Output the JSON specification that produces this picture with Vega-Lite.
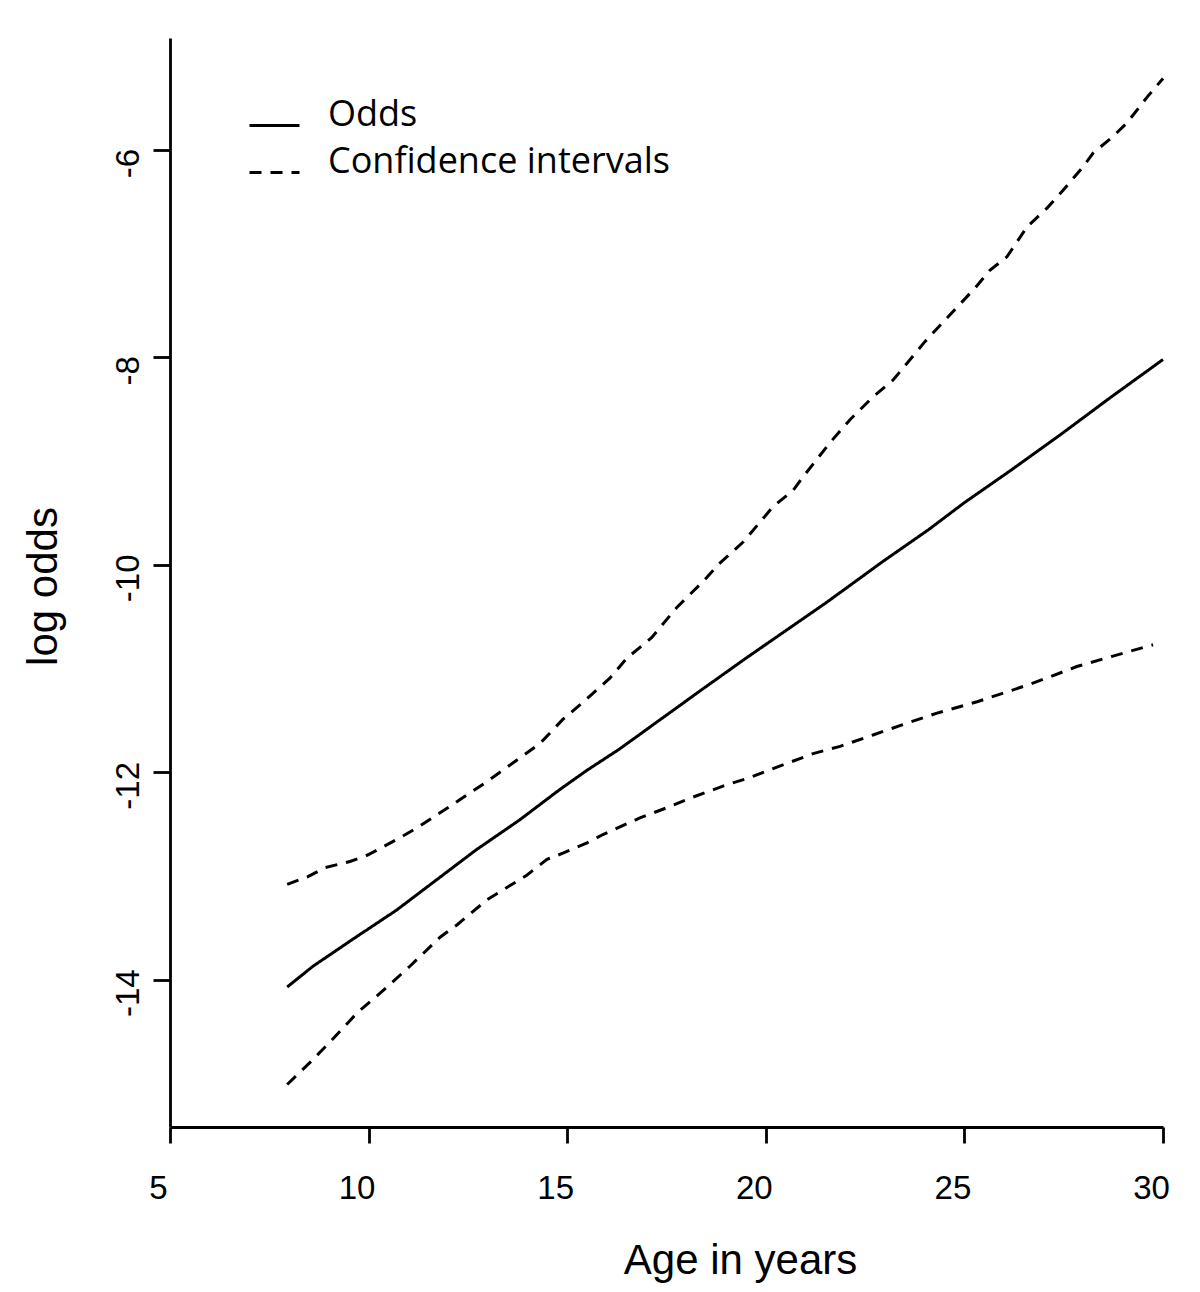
{
  "$schema": "https://vega.github.io/schema/vega-lite/v6.json",
  "width": 993,
  "height": 1089,
  "autosize": {"type": "none"},
  "padding": {"left": 170, "top": 38, "right": 37, "bottom": 165},
  "background": "white",
  "config": {"view": {"stroke": null}},
  "datasets": {
    "odds": [
      {"age": 7.95, "logodds": -14.07}, {"age": 8.6, "logodds": -13.87}, {"age": 9.6, "logodds": -13.61},
      {"age": 10.7, "logodds": -13.33}, {"age": 11.7, "logodds": -13.04}, {"age": 12.7, "logodds": -12.75},
      {"age": 13.8, "logodds": -12.46}, {"age": 14.8, "logodds": -12.17}, {"age": 15.5, "logodds": -11.98},
      {"age": 16.3, "logodds": -11.78}, {"age": 18.4, "logodds": -11.2}, {"age": 19.5, "logodds": -10.9},
      {"age": 21.5, "logodds": -10.37}, {"age": 22.4, "logodds": -10.12}, {"age": 22.9, "logodds": -9.98},
      {"age": 24.1, "logodds": -9.66}, {"age": 25.0, "logodds": -9.4}, {"age": 26.2, "logodds": -9.08},
      {"age": 27.4, "logodds": -8.75}, {"age": 28.7, "logodds": -8.38}, {"age": 30.0, "logodds": -8.02}
    ],
    "upper": [
      {"age": 7.95, "logodds": -13.08}, {"age": 8.45, "logodds": -13.01}, {"age": 8.9, "logodds": -12.92},
      {"age": 9.53, "logodds": -12.86}, {"age": 9.96, "logodds": -12.8}, {"age": 10.41, "logodds": -12.71},
      {"age": 10.84, "logodds": -12.62}, {"age": 11.24, "logodds": -12.53}, {"age": 12.12, "logodds": -12.31},
      {"age": 12.98, "logodds": -12.09}, {"age": 13.38, "logodds": -11.98}, {"age": 14.32, "logodds": -11.72},
      {"age": 14.89, "logodds": -11.49}, {"age": 15.32, "logodds": -11.35}, {"age": 16.08, "logodds": -11.09},
      {"age": 16.5, "logodds": -10.9}, {"age": 17.13, "logodds": -10.7}, {"age": 17.76, "logodds": -10.41},
      {"age": 18.42, "logodds": -10.16}, {"age": 18.85, "logodds": -9.98}, {"age": 19.43, "logodds": -9.78},
      {"age": 20.18, "logodds": -9.44}, {"age": 20.69, "logodds": -9.28}, {"age": 20.94, "logodds": -9.15},
      {"age": 21.62, "logodds": -8.82}, {"age": 22.12, "logodds": -8.6}, {"age": 22.7, "logodds": -8.38},
      {"age": 23.2, "logodds": -8.22}, {"age": 24.0, "logodds": -7.85}, {"age": 24.56, "logodds": -7.62},
      {"age": 25.27, "logodds": -7.33}, {"age": 25.64, "logodds": -7.16}, {"age": 26.07, "logodds": -7.03},
      {"age": 26.58, "logodds": -6.74}, {"age": 27.08, "logodds": -6.56}, {"age": 27.48, "logodds": -6.39},
      {"age": 27.99, "logodds": -6.16}, {"age": 28.24, "logodds": -6.03}, {"age": 28.74, "logodds": -5.87},
      {"age": 29.09, "logodds": -5.74}, {"age": 29.6, "logodds": -5.49}, {"age": 30.0, "logodds": -5.31}
    ],
    "lower": [
      {"age": 7.95, "logodds": -15.01}, {"age": 8.52, "logodds": -14.8}, {"age": 9.03, "logodds": -14.6},
      {"age": 9.71, "logodds": -14.32}, {"age": 10.29, "logodds": -14.13}, {"age": 11.04, "logodds": -13.87},
      {"age": 11.8, "logodds": -13.59}, {"age": 12.23, "logodds": -13.47}, {"age": 12.98, "logodds": -13.23},
      {"age": 13.99, "logodds": -12.99}, {"age": 14.49, "logodds": -12.84}, {"age": 14.89, "logodds": -12.78},
      {"age": 15.5, "logodds": -12.68}, {"age": 15.9, "logodds": -12.6}, {"age": 16.83, "logodds": -12.44},
      {"age": 17.59, "logodds": -12.33}, {"age": 18.09, "logodds": -12.25}, {"age": 19.02, "logodds": -12.12},
      {"age": 19.53, "logodds": -12.06}, {"age": 20.28, "logodds": -11.95}, {"age": 21.19, "logodds": -11.82},
      {"age": 21.87, "logodds": -11.75}, {"age": 22.7, "logodds": -11.64}, {"age": 23.45, "logodds": -11.54},
      {"age": 24.31, "logodds": -11.43}, {"age": 25.32, "logodds": -11.32}, {"age": 26.58, "logodds": -11.16},
      {"age": 27.08, "logodds": -11.09}, {"age": 27.83, "logodds": -10.98}, {"age": 28.74, "logodds": -10.88},
      {"age": 29.75, "logodds": -10.77}
    ]
  },
  "layer": [
    {
      "data": {"name": "odds"},
      "transform": [{"calculate": "'Odds'", "as": "series"}, {"calculate": "'odds'", "as": "line"}],
      "mark": {"type": "line", "color": "black", "strokeWidth": 3},
      "encoding": {
        "x": {"field": "age", "type": "quantitative"},
        "y": {"field": "logodds", "type": "quantitative"},
        "strokeDash": {"field": "series", "type": "nominal"},
        "detail": {"field": "line"}
      }
    },
    {
      "data": {"name": "upper"},
      "transform": [{"calculate": "'Confidence intervals'", "as": "series"}, {"calculate": "'upper'", "as": "line"}],
      "mark": {"type": "line", "color": "black", "strokeWidth": 3},
      "encoding": {
        "x": {"field": "age", "type": "quantitative"},
        "y": {"field": "logodds", "type": "quantitative"},
        "strokeDash": {"field": "series", "type": "nominal"},
        "detail": {"field": "line"}
      }
    },
    {
      "data": {"name": "lower"},
      "transform": [{"calculate": "'Confidence intervals'", "as": "series"}, {"calculate": "'lower'", "as": "line"}],
      "mark": {"type": "line", "color": "black", "strokeWidth": 3},
      "encoding": {
        "x": {"field": "age", "type": "quantitative"},
        "y": {"field": "logodds", "type": "quantitative"},
        "strokeDash": {"field": "series", "type": "nominal"},
        "detail": {"field": "line"}
      }
    }
  ],
  "encoding": {
    "x": {
      "field": "age",
      "type": "quantitative",
      "scale": {"domain": [5, 30], "nice": false, "zero": false},
      "axis": {
        "title": "Age in years",
        "values": [5, 10, 15, 20, 25, 30],
        "grid": false,
        "domainColor": "black",
        "domainWidth": 2.8,
        "tickColor": "black",
        "tickWidth": 2.8,
        "tickSize": 16,
        "labelFont": "Liberation Sans",
        "labelFontSize": 33,
        "labelColor": "black",
        "labelPadding": 29,
        "labelOffset": -12,
        "labelFlush": false,
        "labelOverlap": false,
        "titleFont": "Liberation Sans",
        "titleFontSize": 42,
        "titleFontWeight": "normal",
        "titleColor": "black",
        "titleX": 570,
        "titleY": 146,
        "titleAlign": "center",
        "titleBaseline": "alphabetic"
      }
    },
    "y": {
      "field": "logodds",
      "type": "quantitative",
      "scale": {"domain": [-15.42, -4.92], "nice": false, "zero": false},
      "axis": {
        "title": "log odds",
        "values": [-14, -12, -10, -8, -6],
        "labelExpr": "datum.value < 0 ? '-' + abs(datum.value) : '' + datum.value",
        "grid": false,
        "domainColor": "black",
        "domainWidth": 2.8,
        "tickColor": "black",
        "tickWidth": 2.8,
        "tickSize": 17,
        "labelFont": "Liberation Sans",
        "labelFontSize": 33,
        "labelColor": "black",
        "labelAngle": 270,
        "labelAlign": "center",
        "labelBaseline": "alphabetic",
        "labelPadding": 15,
        "labelOffset": 13,
        "labelOverlap": false,
        "titleFont": "Liberation Sans",
        "titleFontSize": 42,
        "titleFontWeight": "normal",
        "titleColor": "black",
        "titleAngle": 270,
        "titleX": -114,
        "titleY": 548,
        "titleAlign": "center",
        "titleBaseline": "alphabetic"
      }
    },
    "strokeDash": {
      "field": "series",
      "type": "nominal",
      "scale": {"domain": ["Odds", "Confidence intervals"], "range": [[1, 0], [12, 9]]},
      "legend": {
        "title": null,
        "orient": "none",
        "legendX": 78,
        "legendY": 61,
        "direction": "vertical",
        "padding": 0,
        "symbolType": "stroke",
        "symbolSize": 2500,
        "symbolStrokeWidth": 3,
        "symbolStrokeColor": "black",
        "labelFont": "Open Sans",
        "labelFontSize": 36,
        "labelColor": "black",
        "labelOffset": 27,
        "labelBaseline": "alphabetic",
        "rowPadding": 10,
        "labelLimit": 700
      }
    }
  }
}
